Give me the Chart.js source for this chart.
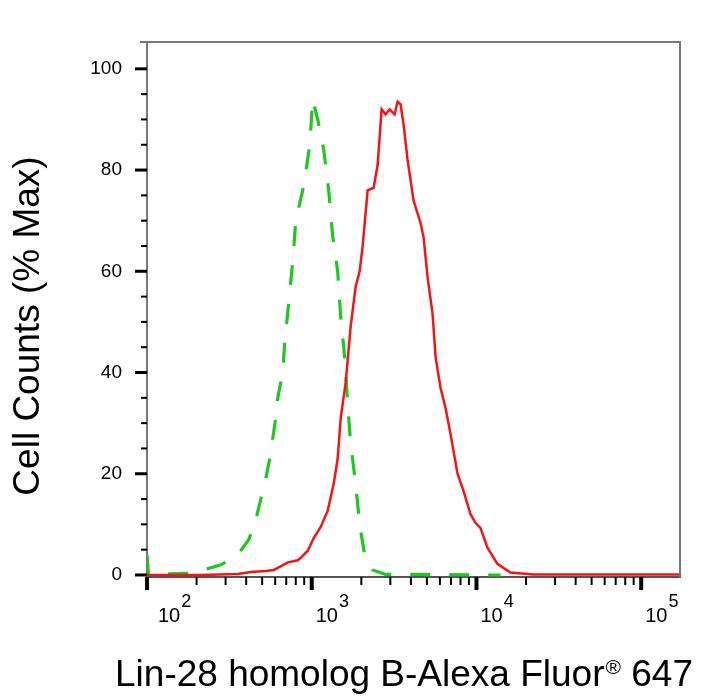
<!DOCTYPE html>
<html>
<head>
<meta charset="utf-8">
<script src="https://cdn.jsdelivr.net/npm/chart.js@4.4.1/dist/chart.umd.min.js"></script>
<style>
  html, body { margin: 0; padding: 0; background: #fff; }
  #wrap { width: 726px; height: 699px; position: relative; }
</style>
</head>
<body>
<div id="wrap"><canvas id="histo"></canvas></div>
<script>
// Données (intensité de fluorescence, % du max)
const redX = [100, 212, 356, 427, 526, 589, 622, 716, 822, 857, 946, 1028, 1134, 1250, 1359, 1437, 1499, 1607, 1722, 1848, 1954, 2038, 2184, 2375, 2512, 2655, 2808, 2970, 3184, 3320, 3460, 3610, 3818, 4150, 4580, 4775, 5050, 5410, 5650, 6050, 6490, 6950, 7670, 8340, 9200, 9860, 10570, 11660, 13400, 16070, 22150, 56490, 172000];
const redY = [0, 0, 0.2, 0.6, 0.8, 1, 1.4, 2.5, 2.9, 3.4, 4.8, 7.3, 9.5, 12.7, 18, 23, 31, 38, 49, 57, 60, 65, 76, 76.5, 81, 92, 91, 92, 91, 93.5, 93, 89, 82, 74, 69.5, 66.7, 58.8, 51.7, 43, 37, 33, 28, 20, 16.6, 12, 10.3, 9.3, 5.4, 2.2, 0.5, 0.1, 0.1, 0.1];

const greenX = [100, 102, 122, 172, 221, 281, 356, 415, 458, 491, 526, 556, 580, 605, 622, 667, 686, 726, 767, 800, 895, 973, 1014, 1087, 1182, 1268, 1340, 1437, 1499, 1585, 1652, 1722, 1848, 1954, 2094, 2342, 2808, 4580, 10570, 14000];
const greenY = [4, 0.2, 0.2, 0.3, 1, 2, 4, 7, 11, 15, 19, 23, 27, 31, 35, 40, 46, 54, 62, 70, 77, 85, 94, 90, 84, 76, 67, 60, 51, 43, 34, 26, 18, 10, 4, 1, 0.1, 0.1, 0, 0];

// graduations
const xTicks = [100, 200, 300, 400, 500, 600, 700, 800, 900, 1000, 2000, 3000, 4000, 5000, 6000, 7000, 8000, 9000, 10000, 20000, 30000, 40000, 50000, 60000, 70000, 80000, 90000, 100000];
const xMajor = [100, 1000, 10000, 100000];
const xMajorExp = ["2", "3", "4", "5"];
const yTicks = [0, 5, 10, 15, 20, 25, 30, 35, 40, 45, 50, 55, 60, 65, 70, 75, 80, 85, 90, 95, 100];
const yMajor = [0, 20, 40, 60, 80, 100];

const yTitle = "Cell Counts (% Max)";
const xTitle = "Lin-28 homolog B-Alexa Fluor";
const xTitleSup = "®";
const xTitleEnd = " 647";

const FONT = "'Liberation Sans', Arial, sans-serif";

// cadre, graduations, étiquettes 10^n et titres des axes
const decorPlugin = {
  id: "decor",
  afterDraw(chart) {
    const ctx = chart.ctx;
    const a = chart.chartArea;
    ctx.save();
    // cadre haut / droite
    ctx.strokeStyle = "#777";
    ctx.lineWidth = 2;
    ctx.beginPath();
    ctx.moveTo(a.left - 7, a.top);
    ctx.lineTo(a.right, a.top);
    ctx.lineTo(a.right, a.bottom);
    ctx.stroke();

    // graduations x
    const xs = chart.scales.x;
    ctx.strokeStyle = "#000";
    xs.ticks.forEach((t) => {
      const px = xs.getPixelForValue(t.value);
      const big = xMajor.includes(t.value);
      ctx.lineWidth = big ? 4 : 2;
      ctx.beginPath();
      ctx.moveTo(px, a.bottom);
      ctx.lineTo(px, a.bottom + (big ? 13 : 8));
      ctx.stroke();
    });
    // étiquettes x : 10 + exposant
    ctx.fillStyle = "#000";
    ctx.textAlign = "left";
    ctx.textBaseline = "alphabetic";
    xMajor.forEach((v, i) => {
      const px = xs.getPixelForValue(v);
      const x0 = Math.max(px + 4, a.left + 11);
      ctx.font = "20px " + FONT;
      ctx.fillText("10", x0, a.bottom + 45);
      const w = ctx.measureText("10").width;
      ctx.font = "18px " + FONT;
      ctx.fillText(xMajorExp[i], x0 + w + 1, a.bottom + 30);
    });

    // graduations y
    const ys = chart.scales.y;
    ys.ticks.forEach((t) => {
      const py = ys.getPixelForValue(t.value);
      const big = yMajor.includes(t.value);
      ctx.lineWidth = big ? 3 : 2;
      ctx.beginPath();
      ctx.moveTo(a.left, py);
      ctx.lineTo(a.left - (big ? 12 : 6), py);
      ctx.stroke();
    });

    // titre y
    ctx.font = "37px " + FONT;
    ctx.textAlign = "center";
    ctx.translate(39, 326);
    ctx.rotate(-Math.PI / 2);
    ctx.fillText(yTitle, 0, 0);
    ctx.restore();

    // titre x (avec ® en exposant)
    ctx.save();
    ctx.fillStyle = "#000";
    ctx.textAlign = "left";
    ctx.textBaseline = "alphabetic";
    let x = 115;
    const base = 686;
    ctx.font = "37px " + FONT;
    ctx.fillText(xTitle, x, base);
    x += ctx.measureText(xTitle).width;
    ctx.font = "21px " + FONT;
    ctx.fillText(xTitleSup, x + 1, base - 12);
    x += ctx.measureText(xTitleSup).width + 1;
    ctx.font = "37px " + FONT;
    ctx.fillText(xTitleEnd, x, base);
    ctx.restore();
  },
};

const data = {
  datasets: [
    {
      label: "Lin28B",
      data: redX.map((v, i) => ({ x: v, y: redY[i] })),
      borderColor: "rgb(245, 20, 20)",
      borderWidth: 2.5,
      pointRadius: 0,
      tension: 0,
      fill: false,
    },
    {
      label: "Isotype",
      data: greenX.map((v, i) => ({ x: v, y: greenY[i] })),
      borderColor: "rgb(30, 200, 30)",
      borderWidth: 3.2,
      borderDash: [20, 19],
      pointRadius: 0,
      tension: 0,
      fill: false,
    },
  ],
};

const options = {
  responsive: true,
  maintainAspectRatio: false,
  animation: false,
  layout: { padding: { top: 42, right: 46, left: 0, bottom: 0 } },
  plugins: {
    legend: { display: false },
    tooltip: { enabled: false },
  },
  scales: {
    x: {
      type: "logarithmic",
      min: 100,
      max: 172000,
      afterBuildTicks: (scale) => {
        scale.ticks = xTicks.map((v) => ({ value: v, major: xMajor.includes(v) }));
      },
      afterFit: (scale) => {
        scale.height = 122;
      },
      grid: { display: false, drawTicks: false },
      border: { display: true, color: "#555", width: 2 },
      ticks: {
        autoSkip: false,
        maxRotation: 0,
        color: "#000",
        font: { family: FONT, size: 20 },
        callback: () => "",
      },
    },
    y: {
      min: -0.4,
      max: 105.3,
      afterBuildTicks: (scale) => {
        scale.ticks = yTicks.map((v) => ({ value: v }));
      },
      afterFit: (scale) => {
        scale.width = 147;
      },
      grid: { display: false, drawTicks: false },
      border: { display: true, color: "#777", width: 2 },
      ticks: {
        autoSkip: false,
        padding: 25,
        color: "#000",
        font: { family: FONT, size: 19 },
        callback: (value) => (yMajor.includes(value) ? String(value) : ""),
      },
    },
  },
};

// Création du graphique
const ctx = document.getElementById("histo").getContext("2d");
const histoChart = new Chart(ctx, {
  type: "line",
  data: data,
  options: options,
  plugins: [decorPlugin],
});
</script>
</body>
</html>
